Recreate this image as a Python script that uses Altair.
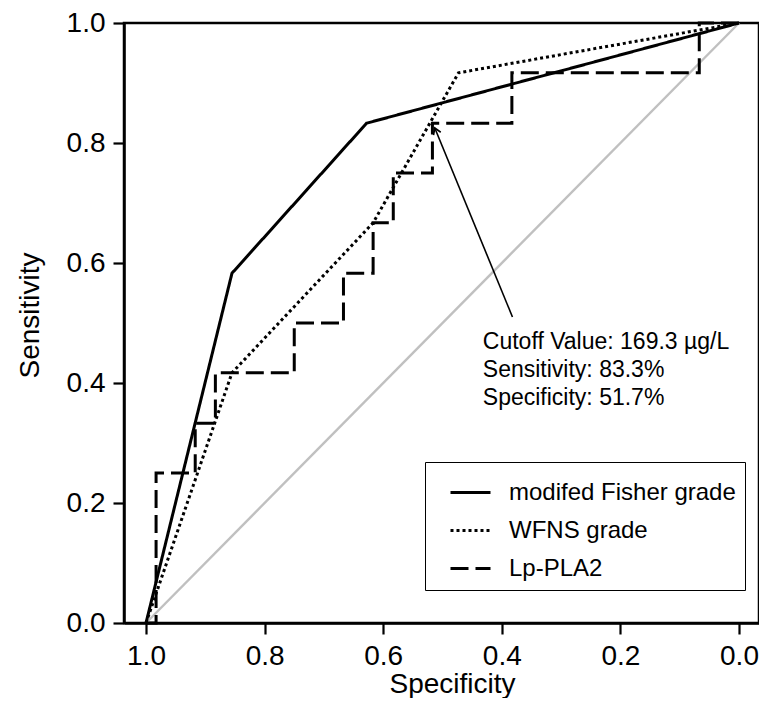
import math
import altair as alt
import pandas as pd

# ---------------- data ----------------
series_names = ["modifed Fisher grade", "WFNS grade", "Lp-PLA2"]

fisher_spec = [1.0, 0.855, 0.628, 0.0]
fisher_sens = [0.0, 0.583, 0.833, 1.0]

wfns_spec = [1.0, 0.855, 0.617, 0.473, 0.0]
wfns_sens = [0.0, 0.417, 0.667, 0.917, 1.0]

lp_spec = [1.0, 0.983, 0.983, 0.917, 0.917, 0.883, 0.883, 0.75, 0.75, 0.667, 0.667,
           0.617, 0.617, 0.583, 0.583, 0.517, 0.517, 0.383, 0.383, 0.067, 0.067, 0.0]
lp_sens = [0.0, 0.0, 0.25, 0.25, 0.333, 0.333, 0.417, 0.417, 0.5, 0.5, 0.583,
           0.583, 0.667, 0.667, 0.75, 0.75, 0.833, 0.833, 0.917, 0.917, 1.0, 1.0]

diag_spec = [1.0, 0.0]
diag_sens = [0.0, 1.0]

tick_values = [1.0, 0.8, 0.6, 0.4, 0.2, 0.0]

annot_text = "Cutoff Value: 169.3 \u00b5g/L\nSensitivity: 83.3%\nSpecificity: 51.7%"
annot_spec = 0.432
annot_sens = 0.457

arrow_tail = (0.382, 0.51)
arrow_tip = (0.513, 0.825)

# ---------------- tables ----------------
rows = []
for name, xs, ys in zip(series_names,
                        [fisher_spec, wfns_spec, lp_spec],
                        [fisher_sens, wfns_sens, lp_sens]):
    for i, (a, b) in enumerate(zip(xs, ys)):
        rows.append({"series": name, "spec": a, "sens": b, "idx": i})
curves = pd.DataFrame(rows)

diag = pd.DataFrame({"spec": diag_spec, "sens": diag_sens, "idx": [0, 1]})

arrow_df = pd.DataFrame({"spec": [arrow_tail[0]], "sens": [arrow_tail[1]],
                         "spec2": [arrow_tip[0]], "sens2": [arrow_tip[1]]})
# arrow head direction (x: 593 px per unit, y: 600 px per unit)
dx_px = -(arrow_tip[0] - arrow_tail[0]) * 593
dy_px = -(arrow_tip[1] - arrow_tail[1]) * 600
head_angle = (math.degrees(math.atan2(dx_px, -dy_px)) + 360) % 360
head_df = pd.DataFrame({"spec": [arrow_tip[0]], "sens": [arrow_tip[1]]})

text_df = pd.DataFrame({"spec": [annot_spec], "sens": [annot_sens], "label": [annot_text]})

FONT = "Liberation Sans"

PLOT_W = 635
xscale = alt.Scale(domain=[1 + 22 / 593, -20 / 593], nice=False, zero=False)
yscale = alt.Scale(domain=[0, 1], nice=False, zero=False)

xaxis = alt.Axis(values=tick_values, format=".1f", title="Specificity",
                 titleX=328, titleY=69, titleBaseline="alphabetic", titleAlign="center")
yaxis = alt.Axis(values=tick_values, format=".1f", title="Sensitivity",
                 titleX=-94, titleY=292, titleAngle=270, titleAlign="center",
                 titleBaseline="middle")

X = alt.X("spec:Q", scale=xscale, axis=xaxis)
Y = alt.Y("sens:Q", scale=yscale, axis=yaxis)

diag_layer = alt.Chart(diag).mark_line(color="#c0c0c0", strokeWidth=2.4).encode(
    x=X, y=Y, order="idx:Q")

curve_layer = alt.Chart(curves).mark_line(color="black", strokeWidth=3).encode(
    x=X, y=Y,
    strokeDash=alt.StrokeDash(
        "series:N",
        scale=alt.Scale(domain=series_names, range=[[1, 0], [3, 3], [18, 7]]),
        legend=alt.Legend(orient="none", legendX=301, legendY=439, title=None,
                          symbolType="stroke", symbolSize=1600, symbolStrokeWidth=2.8,
                          symbolStrokeColor="black", labelFontSize=24, labelFont=FONT,
                          labelColor="black", strokeColor="black", fillColor="white",
                          padding=9, symbolOffset=15, labelOffset=17, rowPadding=4,
                          labelLimit=500),
    ),
    order="idx:Q",
)

arrow_layer = alt.Chart(arrow_df).mark_rule(color="black", strokeWidth=1.6).encode(
    x=alt.X("spec:Q", scale=xscale), y=alt.Y("sens:Q", scale=yscale),
    x2="spec2:Q", y2="sens2:Q")

head_layer = alt.Chart(head_df).mark_point(
    shape="M-1,1.6L0,0L1,1.6", filled=False, color="black", strokeWidth=1.6,
    size=60, angle=head_angle, opacity=1).encode(
    x=alt.X("spec:Q", scale=xscale), y=alt.Y("sens:Q", scale=yscale))

text_layer = alt.Chart(text_df).mark_text(
    align="left", baseline="alphabetic", fontSize=23, lineHeight=28, lineBreak="\n",
    font=FONT, color="black").encode(
    x=alt.X("spec:Q", scale=xscale), y=alt.Y("sens:Q", scale=yscale), text="label:N")

chart = alt.layer(diag_layer, curve_layer, arrow_layer, head_layer, text_layer).properties(
    width=PLOT_W, height=600,
    autosize=alt.AutoSizeParams(type="none"),
    padding={"left": 116, "top": 15, "right": 0, "bottom": 75},
).configure_view(
    stroke="black", strokeWidth=2.5
).configure_axis(
    domainColor="black", domainWidth=2.5, tickColor="black", tickWidth=2.2,
    tickSize=11, labelFont=FONT, labelFontSize=28, labelColor="black",
    labelPadding=8, titleFont=FONT, titleFontSize=28, titleColor="black",
    titleFontWeight="normal", grid=False
)

chart.save("out.html", embed_options={"renderer": "svg", "actions": False})
